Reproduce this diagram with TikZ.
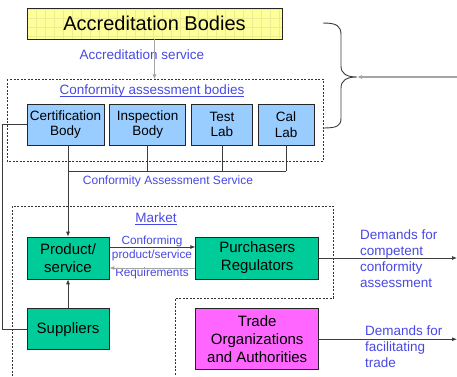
\documentclass[tikz,border=0pt]{standalone}
\usepackage{fontspec}
\setmainfont{Liberation Sans}
\usetikzlibrary{
  arrows.meta, % for small arrow heads
  backgrounds,
  positioning,
}
\definecolor{accyellow}{RGB}{255,255,153}
\definecolor{gridyellow}{RGB}{236,236,150}
\definecolor{cabblue}{RGB}{153,204,255}
\definecolor{mktgreen}{RGB}{0,204,153}
\definecolor{trademagenta}{RGB}{255,102,255}
\definecolor{lblblue}{RGB}{72,72,228}
\definecolor{lineg}{RGB}{60,60,60}
\definecolor{lightg}{RGB}{165,165,165}

\tikzset{
  box/.style={draw=black!85, line width=0.7pt, inner sep=0pt, align=center},
  accbox/.style={box, minimum width=255pt, minimum height=31pt, font=\fontsize{20}{24}\selectfont},
  cabbox/.style={box, fill=cabblue, minimum height=41pt, font=\fontsize{13.5}{15.5}\selectfont},
  mktbox/.style={box, fill=mktgreen, minimum width=82pt, minimum height=42pt, font=\fontsize{15}{18}\selectfont},
  tradebox/.style={box, fill=trademagenta, minimum width=123pt, minimum height=61pt, font=\fontsize{15}{18}\selectfont},
  lbl/.style={text=lblblue, inner sep=0pt, font=\fontsize{13.5}{16}\selectfont},
  smalllbl/.style={lbl, font=\fontsize{11.8}{14}\selectfont},
  uline/.style={draw=lblblue, line width=0.7pt},
  dashbox/.style={draw=black!80, line width=0.8pt, dash pattern=on 2pt off 1.5pt},
  conn/.style={draw=lineg, line width=0.8pt},
  greyconn/.style={draw=lightg, line width=1.1pt},
  tip/.style={-{Latex[length=5pt, width=4pt, fill=black!85]}},
}

\begin{document}
\begin{tikzpicture}[x=1pt, y=-1pt]
  \useasboundingbox (0,0) rectangle (457,376);

  % accreditation body on top
  \node[accbox] (acc) at (154.5,23.5) {Accreditation Bodies};
  \begin{scope}[on background layer]
    \fill[accyellow] (acc.south west) rectangle (acc.north east);
    \clip (acc.south west) rectangle (acc.north east);
    \draw[gridyellow, line width=0.4pt, step=9pt] (acc.south west) grid (acc.north east);
  \end{scope}
  \node[lbl] (accsvc) at (142,55) {Accreditation service};
  \path (acc.south) ++(0,40) coordinate (cabtop);

  % conformity assessment bodies
  \draw[dashbox] (7,79) rectangle (323,161);
  \node[lbl] (cabtitle) at (152,91) {Conformity assessment bodies};
  \draw[uline] ([yshift=-2pt]cabtitle.base west) -- ([yshift=-2pt]cabtitle.base east);
  \node[cabbox, minimum width=77pt] (cb) at (65.5,124.5) {Certification\\Body};
  \node[cabbox, minimum width=76pt, right=5pt of cb] (ib) {Inspection\\Body};
  \node[cabbox, minimum width=61pt, right=5pt of ib] (tl) {Test\\Lab};
  \node[cabbox, minimum width=56pt, right=5pt of tl] (cl) {Cal\\Lab};
  \node[smalllbl, font=\fontsize{12}{14}\selectfont] (cassvc) at (168,181) {Conformity Assessment Service};

  % market
  \draw[dashbox] (12,376) -- (12,206) -- (333,206) -- (333,298) -- (175,298) -- (175,376);
  \node[lbl] (mkttitle) at (156,218) {Market};
  \draw[uline] ([yshift=-2pt]mkttitle.base west) -- ([yshift=-2pt]mkttitle.base east);
  \node[mktbox] (ps) at (68,258) {Product/\\service};
  \node[mktbox, minimum width=123pt, right=86pt of ps] (pr) {Purchasers\\Regulators};
  \node[mktbox, minimum height=41pt, below=29pt of ps] (sup) {Suppliers};
  \node[tradebox, below=29pt of pr] (tr) {Trade\\Organizations\\and Authorities};
  \node[smalllbl, align=center] (confps) at (152,248) {Conforming\\product/service};
  \node[smalllbl] (req) at (152,273.5) {Requirements};

  % demands on the right
  \node[lbl, align=left, anchor=west] (dem1) at (360,259) {Demands for\\competent\\conformity\\assessment};
  \node[lbl, align=left, anchor=west] (dem2) at (365,347) {Demands for\\facilitating\\trade};
  \coordinate (edge) at (457,0);
  \coordinate (bracetip) at (357,77);

  % connectors
  \draw[greyconn, tip] (acc.south) -- (cabtop);
  \path (cb.south) ++(0,26) coordinate (busy);
  \draw[conn, line width=1.1pt] (ps.north |- busy) -- (cl.south |- busy);
  \draw[conn] (cb.south -| ps.north) -- (ps.north |- busy);
  \draw[conn] (ib.south) -- (ib.south |- busy);
  \draw[conn] (tl.south) -- (tl.south |- busy);
  \draw[conn] (cl.south) -- (cl.south |- busy);
  \draw[conn, tip] (ps.north |- busy) -- (ps.north);
  \draw[conn] (cb.west) -| (2.5,0 |- sup.west) -- (sup.west);
  \draw[conn, tip] (sup) -- (ps);
  \draw[conn, tip] ([yshift=11pt]ps.east) -- ([yshift=11pt]pr.west);
  \draw[greyconn, line width=0.9pt, tip] ([yshift=-10pt]pr.west) -- ([yshift=-10pt]ps.east);
  \draw[conn, tip] (pr.east) -- (pr.east -| edge);
  \draw[conn, tip] (tr.east) -- (tr.east -| edge);

  % brace round both bodies
  \draw[conn, line width=0.9pt] (323,23) .. controls (337,23) and (341,26) .. (341,35) -- (341,66)
    .. controls (341,74) and (347,77) .. (bracetip)
    .. controls (347,77) and (341,80) .. (341,88) -- (341,118)
    .. controls (341,126) and (337,128) .. (323,128);
  \draw[greyconn, tip] (edge |- bracetip) -- (bracetip);
\end{tikzpicture}
\end{document}
